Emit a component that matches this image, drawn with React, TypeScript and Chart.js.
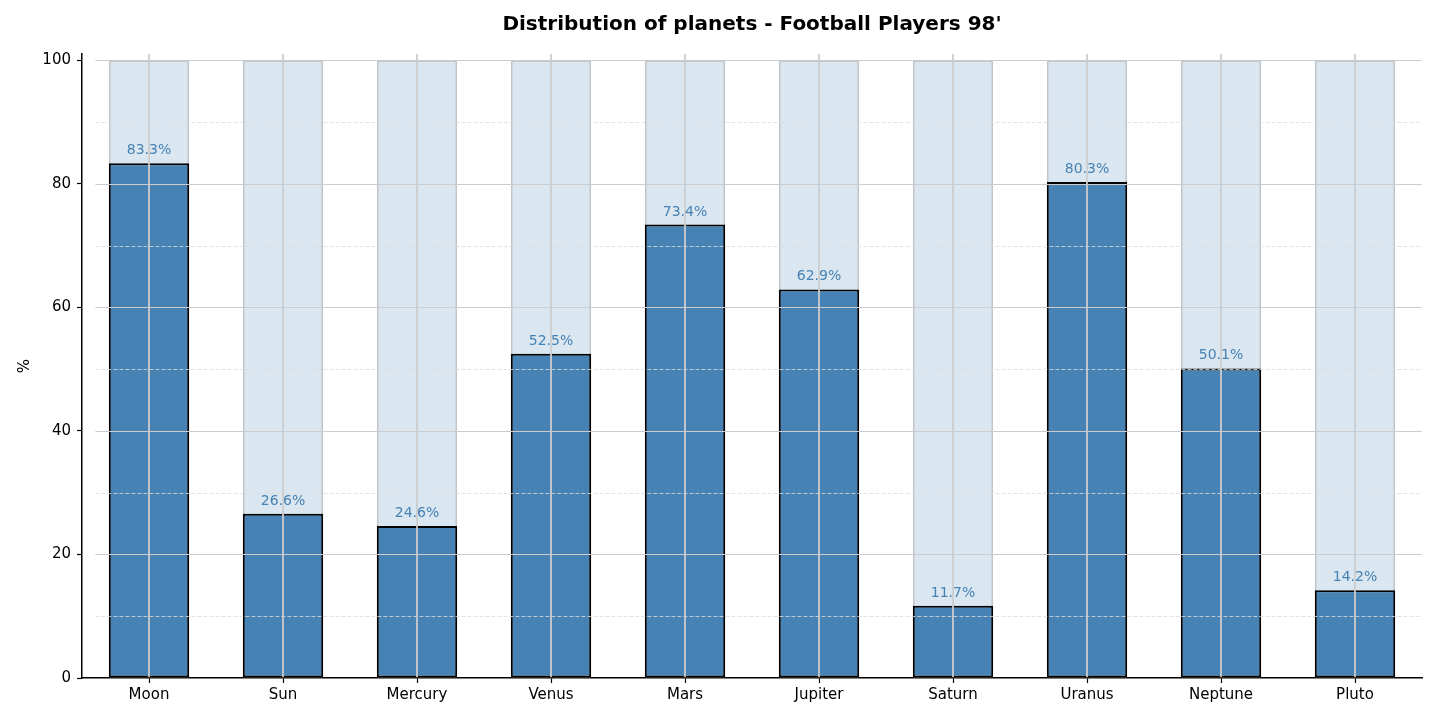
import React, { useEffect, useRef } from "react";
import { Chart, registerables } from "chart.js";

Chart.register(...registerables);

const categories = ["Moon", "Sun", "Mercury", "Venus", "Mars", "Jupiter", "Saturn", "Uranus", "Neptune", "Pluto"];
const percentages = [83.3, 26.6, 24.6, 52.5, 73.4, 62.9, 11.7, 80.3, 50.1, 14.2];
const fullValues = [100, 100, 100, 100, 100, 100, 100, 100, 100, 100];
const yTicks = [0, 20, 40, 60, 80, 100];
const minorTicks = [10, 30, 50, 70, 90];
const titleText = "Distribution of planets - Football Players 98'";
const yLabel = "%";

const FONT = "DejaVu Sans";

const overlay = {
  id: "overlay",
  afterDatasetsDraw(chart: any) {
    const { ctx, chartArea, scales } = chart;
    const x = scales.x;
    const y = scales.y;
    const step = x.getPixelForValue(1) - x.getPixelForValue(0);
    const gx0 = x.getPixelForValue(0) - 0.4 * step;
    const gx1 = chartArea.right;
    ctx.save();
    // minor dashed grid
    ctx.setLineDash([4, 2]);
    ctx.strokeStyle = "#dcdcdc";
    ctx.lineWidth = 0.8;
    for (const v of minorTicks) {
      const yy = Math.round(y.getPixelForValue(v)) + 0.5;
      ctx.beginPath();
      ctx.moveTo(gx0, yy);
      ctx.lineTo(gx1, yy);
      ctx.stroke();
    }
    // major grid
    ctx.setLineDash([]);
    ctx.strokeStyle = "#cccccc";
    ctx.lineWidth = 1.2;
    for (const v of yTicks) {
      if (v === 0) continue;
      const yy = Math.round(y.getPixelForValue(v)) + 0.5;
      ctx.beginPath();
      ctx.moveTo(gx0, yy);
      ctx.lineTo(gx1, yy);
      ctx.stroke();
    }
    // vertical grid
    ctx.lineWidth = 1.8;
    ctx.strokeStyle = "#cccccc";
    categories.forEach((_, i) => {
      const px = x.getPixelForValue(i);
      ctx.beginPath();
      ctx.moveTo(px, chartArea.top);
      ctx.lineTo(px, chartArea.bottom - 1);
      ctx.stroke();
    });
    // value labels
    ctx.fillStyle = "#4682b4";
    ctx.font = `14px "${FONT}"`;
    ctx.textAlign = "center";
    ctx.textBaseline = "alphabetic";
    percentages.forEach((p, i) => {
      const px = x.getPixelForValue(i);
      ctx.fillText(p.toFixed(1) + "%", px, y.getPixelForValue(p) - 9);
    });
    // title
    ctx.fillStyle = "#000";
    ctx.font = `bold 20px "${FONT}"`;
    ctx.textAlign = "center";
    ctx.fillText(titleText, (chartArea.left + chartArea.right) / 2, 30);
    // y label
    ctx.translate(25, (chartArea.top + chartArea.bottom) / 2);
    ctx.rotate(-Math.PI / 2);
    ctx.font = `15px "${FONT}"`;
    ctx.textBaseline = "middle";
    ctx.fillText(yLabel, 0, 0);
    ctx.restore();
  },
};

export default function App() {
  const ref = useRef<HTMLCanvasElement>(null);
  useEffect(() => {
    if (!ref.current) return;
    const chart = new Chart(ref.current, {
      type: "bar",
      data: {
        labels: categories,
        datasets: [
          {
            label: "pct",
            data: percentages,
            backgroundColor: "#4682b4",
            borderColor: "#000000",
            borderWidth: 2,
            borderSkipped: false,
            grouped: false,
            barPercentage: 0.6,
            categoryPercentage: 1,
            order: 0,
          } as any,
          {
            label: "full",
            data: fullValues,
            backgroundColor: "#dae6f0",
            borderColor: "#bfc6cd",
            borderWidth: 2,
            borderSkipped: false,
            grouped: false,
            barPercentage: 0.6,
            categoryPercentage: 1,
            order: 1,
          } as any,
        ],
      },
      options: {
        animation: false,
        responsive: true,
        maintainAspectRatio: false,
        layout: { padding: { left: 0, right: 15, top: 54, bottom: 0 } },
        plugins: {
          legend: { display: false },
          title: { display: false },
          tooltip: { enabled: false },
        },
        scales: {
          x: {
            offset: true,
            grid: {
              display: true,
              drawOnChartArea: false,
              drawTicks: true,
              tickLength: 5,
              tickColor: "#000",
              tickWidth: 1.2,
              offset: false,
            },
            border: { display: true, color: "#000", width: 1.5 },
            ticks: {
              color: "#000",
              font: { family: FONT, size: 15 },
              padding: 3,
              maxRotation: 0,
              autoSkip: false,
            },
            afterFit: (s: any) => {
              s.height = 41;
            },
          },
          y: {
            min: 0,
            max: 101,
            grid: {
              display: true,
              drawOnChartArea: false,
              drawTicks: true,
              tickLength: 5,
              tickColor: "#000",
              tickWidth: 1.2,
            },
            border: { display: true, color: "#000", width: 1.5 },
            ticks: {
              stepSize: 20,
              color: "#000",
              font: { family: FONT, size: 15 },
              padding: 6,
            },
            afterBuildTicks: (s: any) => {
              s.ticks = yTicks.map((v) => ({ value: v }));
            },
            afterFit: (s: any) => {
              s.width = 82;
            },
          },
        },
      } as any,
      plugins: [overlay],
    });
    return () => chart.destroy();
  }, []);
  return (
    <div style={{ position: "fixed", left: 0, top: 0, width: 1437, height: 719, background: "#fff" }}>
      <canvas ref={ref} />
    </div>
  );
}
